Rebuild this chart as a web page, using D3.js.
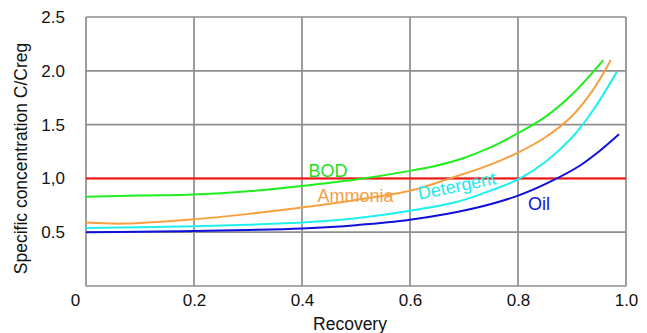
<!DOCTYPE html>
<html>
<head>
<meta charset="utf-8">
<script src="https://cdn.jsdelivr.net/npm/d3@7"></script>
<style>
  html, body { margin: 0; padding: 0; background: #fff; }
  svg { display: block; font-family: "Liberation Sans", Arial, sans-serif; }
</style>
</head>
<body>
<svg id="chart" width="647" height="333"></svg>
<script>
// Specific concentration C/Creg versus recovery for four pollutants
const bodRecovery       = [0, 0.1, 0.2, 0.3, 0.4, 0.5, 0.6, 0.65, 0.7, 0.75, 0.8, 0.85, 0.9, 0.958];
const bodValues         = [0.83, 0.84, 0.85, 0.88, 0.93, 0.99, 1.07, 1.12, 1.19, 1.29, 1.42, 1.57, 1.78, 2.10];

const ammoniaRecovery   = [0, 0.07, 0.2, 0.3, 0.4, 0.5, 0.6, 0.674, 0.75, 0.8, 0.85, 0.9, 0.94, 0.972];
const ammoniaValues     = [0.59, 0.58, 0.62, 0.67, 0.73, 0.80, 0.885, 1.0, 1.13, 1.24, 1.38, 1.58, 1.83, 2.10];

const detergentRecovery = [0, 0.1, 0.2, 0.3, 0.4, 0.5, 0.6, 0.686, 0.74, 0.8, 0.85, 0.9, 0.94, 0.983];
const detergentValues   = [0.54, 0.545, 0.555, 0.57, 0.59, 0.63, 0.70, 0.78, 0.87, 0.99, 1.15, 1.38, 1.64, 1.99];

const oilRecovery       = [0, 0.1, 0.2, 0.3, 0.4, 0.5, 0.6, 0.717, 0.8, 0.86, 0.915, 0.95, 0.987];
const oilValues         = [0.50, 0.505, 0.51, 0.52, 0.535, 0.565, 0.615, 0.72, 0.84, 0.97, 1.12, 1.25, 1.41];

const regulationLimit = 1.0;

const xTickValues = [0, 0.2, 0.4, 0.6, 0.8, 1.0];
const xTickLabels = ["0", "0.2", "0.4", "0.6", "0.8", "1.0"];
const yTickValues = [0.5, 1.0, 1.5, 2.0, 2.5];
const yTickLabels = ["0.5", "1,0", "1.5", "2.0", "2.5"];

const series = [
  { name: "BOD",       x: bodRecovery,       y: bodValues,       color: "#1fee1f", label: "#1fdd1f", lx: 0.448, ly: 1.013, angle: 0 },
  { name: "Ammonia",   x: ammoniaRecovery,   y: ammoniaValues,   color: "#f8a040", label: "#f4a045", lx: 0.499, ly: 0.78,  angle: 0 },
  { name: "Detergent", x: detergentRecovery, y: detergentValues, color: "#1ef0f0", label: "#1ee8ee", lx: 0.689, ly: 0.874, angle: -11.5 },
  { name: "Oil",       x: oilRecovery,       y: oilValues,       color: "#1010dd", label: "#1010dd", lx: 0.839, ly: 0.706, angle: 0 }
];

const svg = d3.select("#chart");
const W = 647, H = 333;
const margin = { top: 17, right: 21, bottom: 47, left: 86 };
const iw = W - margin.left - margin.right;
const ih = H - margin.top - margin.bottom;

const x = d3.scaleLinear().domain([0, 1]).range([0, iw]);
const y = d3.scaleLinear().domain([0, 2.5]).range([ih, 0]);

const g = svg.append("g").attr("transform", `translate(${margin.left},${margin.top})`);

const gridColor = "#8e8e8e";

// vertical grid lines
g.append("g")
  .selectAll("line")
  .data(xTickValues)
  .join("line")
  .attr("x1", d => x(d)).attr("x2", d => x(d))
  .attr("y1", 0).attr("y2", ih)
  .attr("stroke", gridColor).attr("stroke-width", 1.7);

// horizontal grid lines
g.append("g")
  .selectAll("line")
  .data([0, 0.5, 1.0, 1.5, 2.0, 2.5])
  .join("line")
  .attr("x1", 0).attr("x2", iw)
  .attr("y1", d => y(d)).attr("y2", d => y(d))
  .attr("stroke", gridColor).attr("stroke-width", 1.7);

// x axis labels
const xAxis = d3.axisBottom(x)
  .tickValues(xTickValues)
  .tickSize(0)
  .tickPadding(8)
  .tickFormat((d, i) => xTickLabels[i]);
const xg = g.append("g").attr("transform", `translate(0,${ih})`).call(xAxis);
xg.select(".domain").remove();
xg.selectAll("text").attr("font-size", 17).attr("fill", "#111").attr("font-family", null)
  .attr("dx", (d, i) => i === 0 ? -11 : 0);

// y axis labels
const yAxis = d3.axisLeft(y)
  .tickValues(yTickValues)
  .tickSize(0)
  .tickPadding(21)
  .tickFormat((d, i) => yTickLabels[i]);
const yg = g.append("g").call(yAxis);
yg.select(".domain").remove();
yg.selectAll("text").attr("font-size", 17).attr("fill", "#111").attr("font-family", null);

// regulation limit
g.append("line")
  .attr("x1", x(0)).attr("x2", x(1))
  .attr("y1", y(regulationLimit)).attr("y2", y(regulationLimit))
  .attr("stroke", "#ff1010").attr("stroke-width", 2);

// concentration curves
const line = d3.line()
  .x(d => x(d[0]))
  .y(d => y(d[1]))
  .curve(d3.curveCatmullRom.alpha(0.5));

series.forEach(s => {
  const pts = s.x.map((v, i) => [v, s.y[i]]);
  g.append("path")
    .datum(pts)
    .attr("fill", "none")
    .attr("stroke", s.color)
    .attr("stroke-width", 2)
    .attr("d", line);
});

// series labels
series.forEach(s => {
  g.append("text")
    .attr("transform", `translate(${x(s.lx)},${y(s.ly)}) rotate(${s.angle})`)
    .attr("text-anchor", "middle")
    .attr("font-size", 18)
    .attr("fill", s.label)
    .text(s.name);
});

// axis titles
svg.append("text")
  .attr("x", margin.left + iw / 2 - 6)
  .attr("y", 330)
  .attr("text-anchor", "middle")
  .attr("font-size", 17.5)
  .attr("fill", "#111")
  .text("Recovery");

svg.append("text")
  .attr("transform", `translate(27,${margin.top + ih / 2 + 7}) rotate(-90)`)
  .attr("text-anchor", "middle")
  .attr("font-size", 17.5)
  .attr("fill", "#111")
  .text("Specific concentration C/Creg");
</script>
</body>
</html>
